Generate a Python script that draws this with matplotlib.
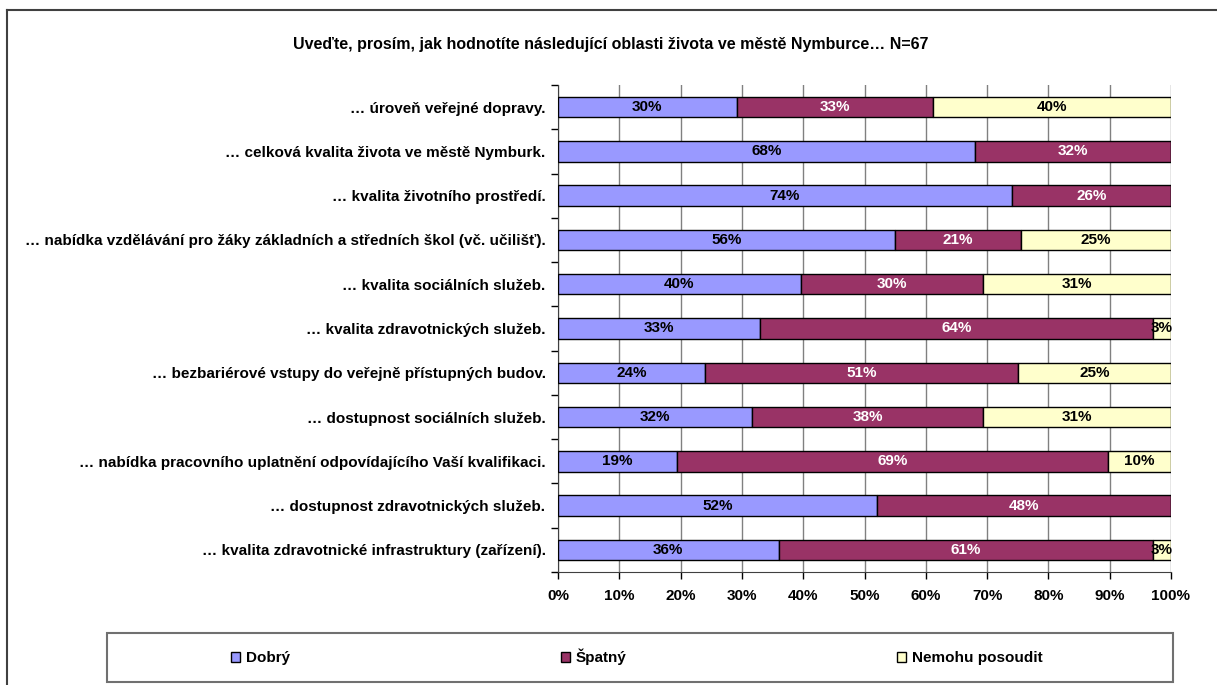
import matplotlib
matplotlib.use('Agg')
import matplotlib.pyplot as plt
import numpy as np
from matplotlib.patches import Patch, Rectangle
from matplotlib.lines import Line2D

#--------------- Style ---------------------
plt.rcParams['font.family'] = ['Liberation Sans', 'DejaVu Sans']
plt.rcParams['font.weight'] = 'bold'
plt.rcParams['font.size'] = 11

#--------------- Data ---------------------
title = "Uveďte, prosím, jak hodnotíte následující oblasti života ve městě Nymburce… N=67"
categories = [
    "… úroveň veřejné dopravy.",
    "… celková kvalita života ve městě Nymburk.",
    "… kvalita životního prostředí.",
    "… nabídka vzdělávání pro žáky základních a středních škol (vč. učilišť).",
    "… kvalita sociálních služeb.",
    "… kvalita zdravotnických služeb.",
    "… bezbariérové vstupy do veřejně přístupných budov.",
    "… dostupnost sociálních služeb.",
    "… nabídka pracovního uplatnění odpovídajícího Vaší kvalifikaci.",
    "… dostupnost zdravotnických služeb.",
    "… kvalita zdravotnické infrastruktury (zařízení).",
]
dobry = [30, 68, 74, 56, 40, 33, 24, 32, 19, 52, 36]
spatny = [33, 32, 26, 21, 30, 64, 51, 38, 69, 48, 61]
nemohu = [40, 0, 0, 25, 31, 3, 25, 31, 10, 0, 3]
series_names = ["Dobrý", "Špatný", "Nemohu posoudit"]
colors = ["#9999FF", "#993366", "#FFFFCC"]
text_colors = ["black", "white", "black"]

#--------------- Plot ---------------------
W, H = 1217, 685
fig = plt.figure(figsize=(W / 100, H / 100), dpi=100)
ax = fig.add_axes([558 / W, 1 - 572 / H, (1171 - 558) / W, (572 - 85) / H])

data = np.array([dobry, spatny, nemohu], dtype=float)
share = data / data.sum(axis=0) * 100
y = np.arange(len(categories))
left = np.zeros(len(categories))
for i in range(3):
    ax.barh(y, share[i], left=left, height=0.46, color=colors[i],
            edgecolor='black', linewidth=1, zorder=3)
    for j in range(len(categories)):
        if data[i, j] > 0:
            ax.text(left[j] + share[i, j] / 2, y[j], f"{int(data[i, j])}%",
                    ha='center', va='center', color=text_colors[i],
                    fontsize=11, fontweight='bold', zorder=4)
    left += share[i]

ax.set_xlim(0, 100)
ax.set_ylim(len(categories) - 0.5, -0.5)
ax.set_xticks(np.arange(0, 101, 10))
ax.set_xticklabels([f"{v}%" for v in range(0, 101, 10)])
ax.set_yticks(y)
ax.set_yticklabels(categories)
ax.set_yticks(np.arange(-0.5, len(categories)), minor=True)
ax.tick_params(axis='y', which='major', length=0, pad=9)
ax.tick_params(axis='y', which='minor', length=5, width=1, direction='out')
ax.tick_params(axis='x', length=5, width=1, direction='out', pad=7)
ax.xaxis.grid(True, color='#808080', linewidth=1, zorder=0)
ax.set_axisbelow(True)
for s in ['top', 'right']:
    ax.spines[s].set_visible(False)
ax.spines['left'].set_color('#404040')
ax.spines['bottom'].set_color('#404040')

fig.text(611 / W, 1 - 45 / H, title, ha='center', va='center',
         fontsize=11.5, fontweight='bold')

# Legend
fig.patches.append(Rectangle((107 / W, 1 - 682 / H), (1173 - 107) / W, 49 / H,
                             transform=fig.transFigure, fill=False,
                             edgecolor='#707070', linewidth=1.5))
handles = [Patch(facecolor=c, edgecolor='black', linewidth=1) for c in colors]
fig.legend(handles, series_names, loc='center', ncol=3,
           bbox_to_anchor=(637 / W, 1 - 657 / H), frameon=False,
           handlelength=0.6, handleheight=0.6, handletextpad=0.4,
           columnspacing=17.7, fontsize=11)

# Outer frame
fig.lines.append(Line2D([7 / W, 7 / W], [0, 1 - 10 / H], transform=fig.transFigure,
                        color='#404040', linewidth=1.5))
fig.lines.append(Line2D([7 / W, 1], [1 - 10 / H, 1 - 10 / H], transform=fig.transFigure,
                        color='#404040', linewidth=1.5))

fig.savefig('out.png', dpi=100)
